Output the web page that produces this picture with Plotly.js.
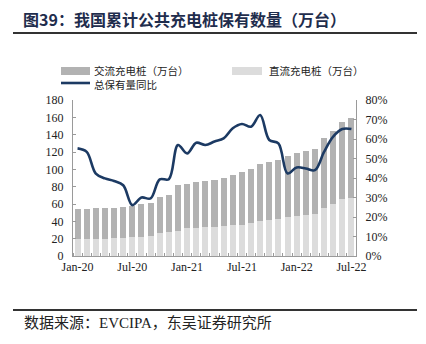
<!DOCTYPE html>
<html><head><meta charset="utf-8">
<script src="https://cdn.plot.ly/plotly-3.0.1.min.js"></script>
<style>html,body{margin:0;padding:0;background:#fff}#c{width:426px;height:344px}</style>
</head><body><div id="c"></div>
<script>
const months = ["Jan-20","Feb-20","Mar-20","Apr-20","May-20","Jun-20","Jul-20","Aug-20","Sep-20","Oct-20","Nov-20","Dec-20",
"Jan-21","Feb-21","Mar-21","Apr-21","May-21","Jun-21","Jul-21","Aug-21","Sep-21","Oct-21","Nov-21","Dec-21",
"Jan-22","Feb-22","Mar-22","Apr-22","May-22","Jun-22","Jul-22"];
const totalPiles = [54.0,54.3,55.1,55.5,55.8,57.0,58.1,60.1,61.6,67.9,70.6,81.9,
82.6,84.9,86.0,88.0,90.0,93.8,97.0,100.5,105.8,108.1,111.3,115.9,
119.1,121.7,123.7,135.7,144.2,155.1,159.8];
const dcPiles = [19.1,19.4,19.4,19.8,20.2,20.6,21.4,22.1,23.3,26.7,27.9,28.7,
31.9,32.6,33.4,33.7,34.5,35.3,36.0,37.7,40.3,41.5,42.7,44.7,
46.2,47.7,48.1,55.1,60.1,65.6,66.7];
const acPiles = totalPiles.map((t,i)=>+(t-dcPiles[i]).toFixed(1));
const yoyPct = [55.2,53.4,42.3,39.8,38.5,36.3,26.1,30.0,29.5,39.3,39.4,56.9,
52.6,58.1,56.9,58.7,60.3,65.5,67.7,66.3,72.3,59.5,57.8,42.3,
45.4,44.9,44.0,53.4,61.2,65.1,65.1];
const tickLabels = ["Jan-20","Jul-20","Jan-21","Jul-21","Jan-22","Jul-22"];
const seriesNames = ["交流充电桩（万台）","直流充电桩（万台）","总保有量同比"];

const xIdx = months.map((_,i)=>i);
const tickIdx = tickLabels.map(l=>months.indexOf(l));
const cDark = "#b2b2b2", cLight = "#dcdcdc", cLine = "#1c3a63";

const traces = [
  {type:"bar", x:xIdx, y:dcPiles, name:seriesNames[1], marker:{color:cLight}, hoverinfo:"skip"},
  {type:"bar", x:xIdx, y:acPiles, name:seriesNames[0], marker:{color:cDark}, hoverinfo:"skip"},
  {type:"scatter", mode:"lines", x:xIdx, y:yoyPct, yaxis:"y2", name:seriesNames[2],
   line:{color:cLine, width:2.6, shape:"spline", smoothing:1}, hoverinfo:"skip"}
];

const L=73, R=356, T=100, B=256;
const px = v => (v-L)/(R-L);
const py = v => (B-v)/(B-T);
const serif = "Liberation Serif, Times New Roman, serif";
const cjk = "Noto Sans CJK SC, sans-serif";

const layout = {
  width:426, height:344,
  margin:{l:L, r:426-R, t:T, b:344-B},
  paper_bgcolor:"#fff", plot_bgcolor:"#fff",
  showlegend:false, barmode:"stack", bargap:0.34,
  font:{family:serif, size:12, color:"#222"},
  xaxis:{range:[-0.5,30.5], tickvals:tickIdx, ticktext:tickLabels, ticks:"", showgrid:false, zeroline:false,
    showline:true, linecolor:"#9a9a9a", linewidth:1, tickfont:{family:serif,size:12,color:"#222"},
    minor:{tick0:0.5, dtick:1, ticks:"inside", ticklen:3, tickcolor:"#9a9a9a", showgrid:false}},
  yaxis:{range:[0,180], dtick:20, ticks:"inside", ticklen:3, tickcolor:"#9a9a9a", showgrid:false, zeroline:false,
    showline:true, linecolor:"#9a9a9a", linewidth:1, tickfont:{family:serif,size:12,color:"#222"}, ticklabelstandoff:6},
  yaxis2:{range:[0,80], dtick:10, ticksuffix:"%", overlaying:"y", side:"right", ticks:"inside", ticklen:3,
    tickcolor:"#9a9a9a", showgrid:false, zeroline:false, showline:true, linecolor:"#9a9a9a", linewidth:1,
    tickfont:{family:serif,size:12,color:"#222"}, ticklabelstandoff:6},
  shapes:[
    {type:"line", xref:"paper", yref:"paper", x0:px(13), x1:px(417), y0:py(33), y1:py(33), line:{color:"#333", width:2}},
    {type:"line", xref:"paper", yref:"paper", x0:px(13), x1:px(417), y0:py(310), y1:py(310), line:{color:"#333", width:2}},
    {type:"rect", xref:"paper", yref:"paper", x0:px(61), x1:px(90), y0:py(75), y1:py(67), fillcolor:cDark, line:{width:0}},
    {type:"rect", xref:"paper", yref:"paper", x0:px(232), x1:px(262), y0:py(75), y1:py(67), fillcolor:cLight, line:{width:0}},
    {type:"line", xref:"paper", yref:"paper", x0:px(61), x1:px(90), y0:py(83), y1:py(83), line:{color:cLine, width:2.6}}
  ],
  annotations:[
    {xref:"paper", yref:"paper", x:px(21), y:py(18.5), xanchor:"left", yanchor:"middle", showarrow:false,
     text:"<b>图39：我国累计公共充电桩保有数量（万台）</b>", font:{family:cjk, size:16, color:"#1f2d4d"}},
    {xref:"paper", yref:"paper", x:px(92), y:py(70), xanchor:"left", yanchor:"middle", showarrow:false,
     text:seriesNames[0], font:{family:cjk, size:10.5, color:"#222"}},
    {xref:"paper", yref:"paper", x:px(267), y:py(70), xanchor:"left", yanchor:"middle", showarrow:false,
     text:seriesNames[1], font:{family:cjk, size:10.5, color:"#222"}},
    {xref:"paper", yref:"paper", x:px(92), y:py(84.5), xanchor:"left", yanchor:"middle", showarrow:false,
     text:seriesNames[2], font:{family:cjk, size:10.5, color:"#222"}},
    {xref:"paper", yref:"paper", x:px(22), y:py(323), xanchor:"left", yanchor:"middle", showarrow:false,
     text:"数据来源：EVCIPA，东吴证券研究所", font:{family:"Liberation Serif, Noto Sans CJK SC, serif", size:15, color:"#222"}}
  ]
};
Plotly.newPlot("c", traces, layout, {staticPlot:true, displayModeBar:false});
</script></body></html>
